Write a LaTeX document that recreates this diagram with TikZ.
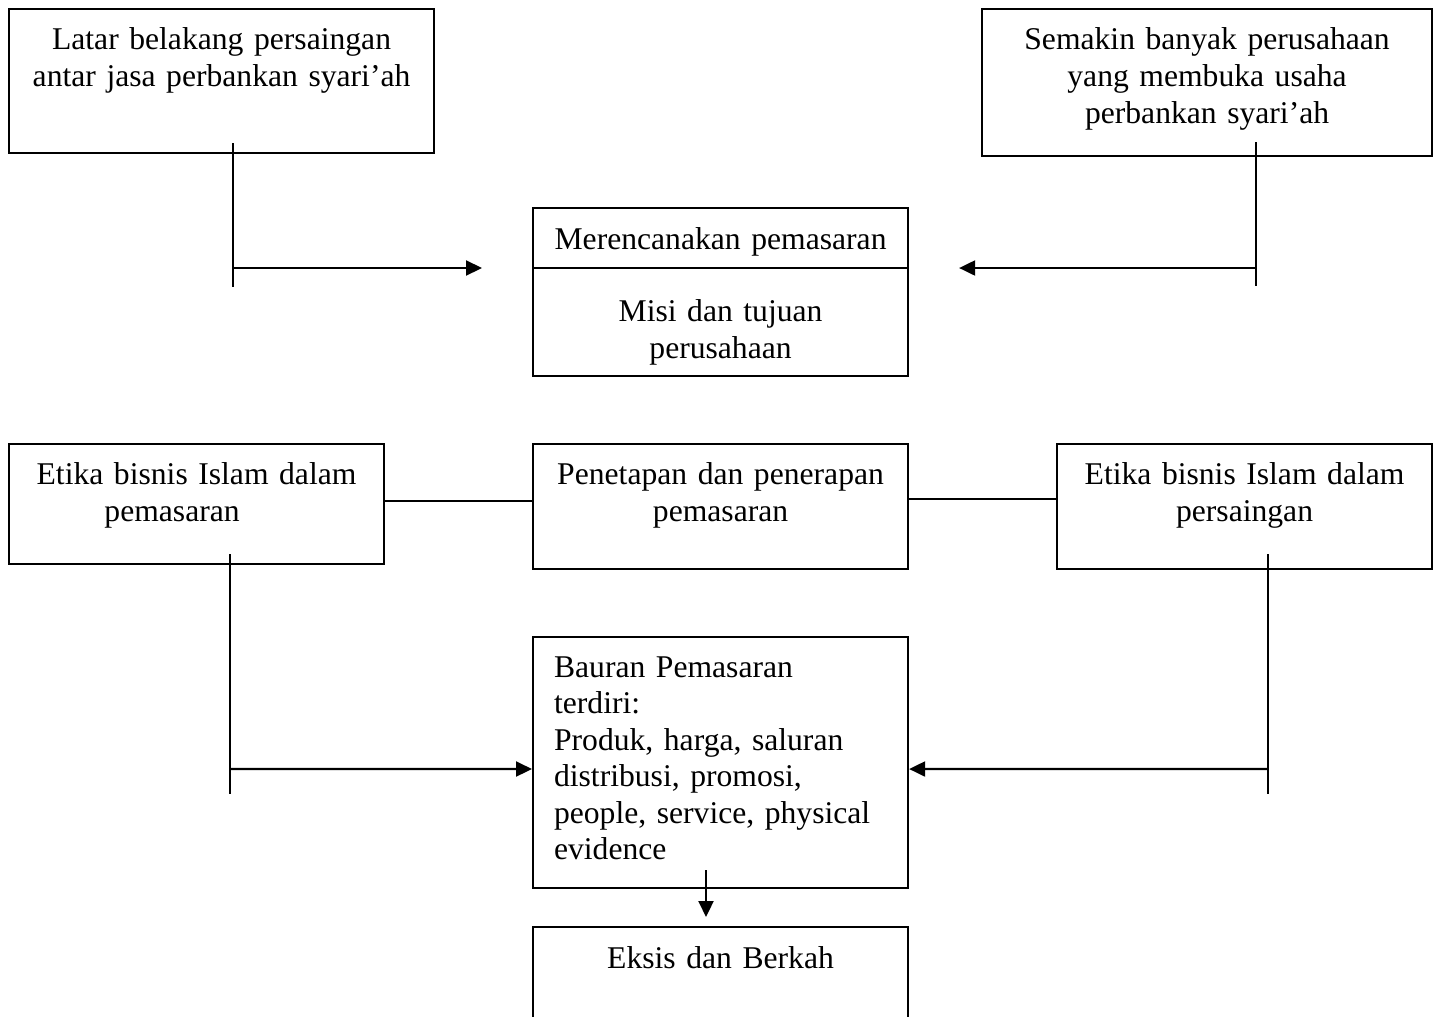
\documentclass[tikz,border=0pt]{standalone}
\usepackage{fontspec}
\setmainfont{Liberation Serif}
\usepackage{tikz}
\usetikzlibrary{arrows.meta}
\tikzset{
	kotak/.style={draw,line width=0.6pt,anchor=north west,align=center,inner xsep=0pt,inner ysep=0pt,text height=0.40cm,font=\fontsize{9}{10.6}\selectfont},
	garis/.style={line width=0.6pt},
	panah/.style={line width=0.6pt,-{Triangle[length=0.16cm,width=0.15cm]}}
}

\begin{document}
\begin{tikzpicture}
						\useasboundingbox (0,0) rectangle (14.36,-10.16);
						\clip (0,0) rectangle (14.36,-10.16);

						\node [kotak,text width=4.25cm,text depth=1.04cm] (latar) at (0.08,-0.08) {Latar belakang persaingan\\antar jasa perbankan syari’ah};
						\node [kotak,text width=4.50cm,text depth=1.07cm] (semakin) at (9.81,-0.08) {Semakin banyak perusahaan\\yang membuka usaha\\perbankan syari’ah};
						\node [kotak,text width=3.75cm,text height=0.41cm,text depth=1.27cm] (renc) at (5.32,-2.07) {Merencanakan pemasaran};
						\node [align=center,anchor=base,text width=3.75cm,font=\fontsize{9}{10.5}\selectfont] (misi) at ([yshift=-1.147cm]renc.north) {Misi dan tujuan\\perusahaan};

						\coordinate (sekatkiri) at ([yshift=-0.61cm]renc.north west);
						\coordinate (sekatkanan) at ([yshift=-0.61cm]renc.north east);
						\draw [garis] (sekatkiri) -- (sekatkanan);

						\coordinate (latarA) at ([xshift=2.25cm,yshift=0.11cm]latar.south west);
						\coordinate (latarB) at ([xshift=2.25cm,yshift=-1.33cm]latar.south west);
						\draw [garis] (latarA) -- (latarB);
						\draw [panah] (latarA |- sekatkiri) -- ([xshift=-0.50cm]sekatkiri);

						\coordinate (semakinA) at ([xshift=2.75cm,yshift=0.15cm]semakin.south west);
						\coordinate (semakinB) at ([xshift=2.75cm,yshift=-1.29cm]semakin.south west);
						\draw [garis] (semakinA) -- (semakinB);
						\draw [panah] (semakinA |- sekatkanan) -- ([xshift=0.50cm]sekatkanan);
						
						
						\node [kotak,text width=3.75cm,text depth=0.80cm] (etika1) at (0.08,-4.43) {Etika bisnis Islam dalam\\pemasaran\rule{0.49cm}{0pt}};
						\node [kotak,text width=3.75cm,text depth=0.85cm] (tetap) at (5.32,-4.43) {Penetapan dan penerapan\\pemasaran};
						\node [kotak,text width=3.75cm,text depth=0.85cm] (etika2) at (10.56,-4.43) {Etika bisnis Islam dalam\\persaingan};

						\draw [garis] ([yshift=-0.58cm]etika1.north east) -- ([yshift=-0.58cm]tetap.north west);
						\draw [garis] ([yshift=-0.56cm]tetap.north east) -- ([yshift=-0.56cm]etika2.north west);

						\node [kotak,align=left,inner xsep=0.21cm,text width=3.33cm,text depth=2.11cm,font=\fontsize{9}{10.4}\selectfont] (bauran) at (5.32,-6.36) {Bauran Pemasaran\\terdiri:\\Produk, harga, saluran\\distribusi, promosi,\\people, service, physical\\evidence};
						\node [kotak,text width=3.75cm,text height=0.41cm,text depth=1.20cm] (eksis) at (5.32,-9.26) {Eksis dan Berkah};

						\coordinate (etika1A) at ([xshift=2.22cm,yshift=0.11cm]etika1.south west);
						\coordinate (etika1B) at ([xshift=2.22cm,yshift=-2.29cm]etika1.south west);
						\draw [garis] (etika1A) -- (etika1B);
						\draw [panah] (etika1A |- bauran.north west) ++(0,-1.33) -- ([yshift=-1.33cm]bauran.north west);

						\coordinate (etika2A) at ([xshift=2.12cm,yshift=0.16cm]etika2.south west);
						\coordinate (etika2B) at ([xshift=2.12cm,yshift=-2.24cm]etika2.south west);
						\draw [garis] (etika2A) -- (etika2B);
						\draw [panah] (etika2A |- bauran.north east) ++(0,-1.33) -- ([yshift=-1.33cm]bauran.north east);

						\draw [panah] ([xshift=1.74cm,yshift=0.19cm]bauran.south west) -- ([xshift=1.74cm,yshift=0.09cm]eksis.north west);
					\end{tikzpicture}
\end{document}
